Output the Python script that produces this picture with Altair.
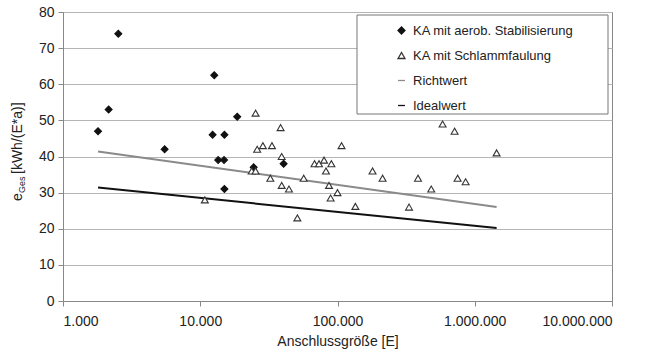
import altair as alt
import pandas as pd

# --- data ---
aerob_x = [1800, 2150, 2530, 5500, 12300, 12650, 13500, 14900, 15000, 15000, 18600, 24500, 40500]
aerob_y = [47, 53, 74, 42, 46, 62.5, 39, 39, 46, 31, 51, 37, 38]

faul_x = [10800, 23700, 25300, 25300, 26000, 28600, 32400, 33300, 38500, 39200, 39200, 44300,
          51000, 56700, 68000, 73300, 79800, 82400, 86700, 89100, 90200, 100000, 107000,
          135000, 180000, 213000, 332000, 386000, 482000, 583000, 713000, 750000, 858000, 1443000]
faul_y = [28, 36, 36, 52, 42, 43, 34, 43, 48, 40, 32, 31,
          23, 34, 38, 38, 39, 36, 32, 28.5, 38, 30, 43,
          26.2, 36, 34, 26, 34, 31, 49, 47, 34, 33, 41]

line_x = [1800, 1443000]
richt_y = [41.4, 26.0]
ideal_y = [31.4, 20.2]

series = ["KA mit aerob. Stabilisierung", "KA mit Schlammfaulung", "Richtwert", "Idealwert"]
x_ticks = [1000, 10000, 100000, 1000000, 10000000]
y_ticks = [0, 10, 20, 30, 40, 50, 60, 70, 80]

pts = pd.DataFrame({
    "x": aerob_x + faul_x,
    "y": aerob_y + faul_y,
    "series": [series[0]] * len(aerob_x) + [series[1]] * len(faul_x),
})
lines = pd.DataFrame({
    "x": line_x + line_x,
    "y": richt_y + ideal_y,
    "series": [series[2]] * 2 + [series[3]] * 2,
})

FONT = "Liberation Sans"

xenc = alt.X("x:Q", scale=alt.Scale(type="log", domain=[1000, 10000000]),
             axis=alt.Axis(values=x_ticks, title="Anschlussgröße [E]",
                           labelExpr="join(split(format(datum.value, ','), ','), '.')",
                           grid=False))
yenc = alt.Y("y:Q", scale=alt.Scale(domain=[0, 80]),
             axis=alt.Axis(values=y_ticks, title=None, grid=True))

legend = alt.Legend(title=None, orient="none", legendX=331, legendY=11,
                    padding=1,
                    labelFont=FONT, labelFontSize=13, labelColor="#222",
                    rowPadding=11, symbolStrokeWidth=1.3,
                    labelLimit=300, labelOffset=5)

stroke_scale = alt.Scale(domain=series, range=["#111", "#333", "#8a8a8a", "#111"])

# legend frame (decoration)
frame = alt.Chart(pd.DataFrame({"k": [0]})).mark_rect(
    fill="white", stroke="#777", strokeWidth=1
).encode(x=alt.value(294), x2=alt.value(545), y=alt.value(3), y2=alt.value(102))

point_layer = alt.Chart(pts).mark_point(strokeWidth=1.1, opacity=1).encode(
    x=xenc, y=yenc,
    shape=alt.Shape("series:N", scale=alt.Scale(domain=series,
                    range=["diamond", "triangle-up", "stroke", "stroke"]), legend=legend),
    fill=alt.Fill("series:N", scale=alt.Scale(domain=series,
                  range=["#111", "white", "white", "white"]), legend=legend),
    stroke=alt.Stroke("series:N", scale=stroke_scale, legend=legend),
    size=alt.Size("series:N", scale=alt.Scale(domain=series, range=[48, 48, 280, 280]),
                  legend=legend),
)

line_layer = alt.Chart(lines).mark_line(strokeWidth=2).encode(
    x=xenc, y=yenc,
    stroke=alt.Stroke("series:N", scale=stroke_scale, legend=legend),
    detail="series:N",
)

title_df = pd.DataFrame({"t": ["e"], "s": ["Ges"], "r": ["[kWh/(E*a)]"]})
ylab_e = alt.Chart(title_df).mark_text(angle=270, align="left", baseline="alphabetic",
                                       font=FONT, fontSize=14, color="#222").encode(
    text="t:N", x=alt.value(-41), y=alt.value(189))
ylab_s = alt.Chart(title_df).mark_text(angle=270, align="left", baseline="alphabetic",
                                       font=FONT, fontSize=9, color="#222").encode(
    text="s:N", x=alt.value(-38), y=alt.value(181))
ylab_r = alt.Chart(title_df).mark_text(angle=270, align="left", baseline="alphabetic",
                                       font=FONT, fontSize=14, color="#222").encode(
    text="r:N", x=alt.value(-41), y=alt.value(162))

chart = alt.layer(line_layer, frame, point_layer, ylab_e, ylab_s, ylab_r).resolve_scale(
    stroke="shared"
).properties(
    width=549, height=289,
    padding={"left": 63, "top": 12, "right": 35, "bottom": 55},
    autosize="none",
    background="white",
).configure_view(
    stroke="#888", strokeWidth=1
).configure_axis(
    labelFont=FONT, titleFont=FONT, labelFontSize=14, titleFontSize=14,
    labelColor="#222", titleColor="#222", titleFontWeight="normal",
    domainColor="#888", tickColor="#888", gridColor="#b5b5b5", gridWidth=1,
    tickSize=5,
).configure_axisX(
    labelPadding=8, titlePadding=6,
).configure_axisY(
    labelPadding=4,
)

chart.save("out.html", embed_options={"renderer": "svg", "actions": False})
